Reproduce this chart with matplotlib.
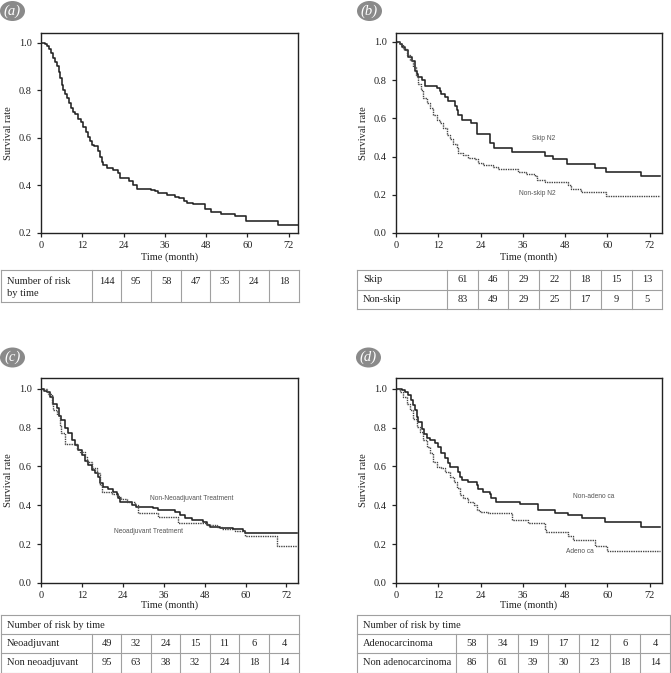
import matplotlib
matplotlib.use("Agg")
import matplotlib.pyplot as plt
from matplotlib.patches import Ellipse

plt.rcParams['font.family'] = ['Liberation Serif', 'DejaVu Serif']

# ---------------- data ----------------
month_ticks = [0, 12, 24, 36, 48, 60, 72]

# (a) overall
A_t = [0, 1.2, 1.8, 2.4, 3.0, 3.5, 4.0, 4.6, 5.1, 5.6, 6.0, 6.5, 7.0, 7.5, 8.0, 8.6, 9.2, 10.0, 10.8, 11.6,
       12.3, 13.0, 13.6, 14.2, 14.8, 15.5, 16.6, 17.1, 17.6, 18.0, 19.2, 21.0, 22.4, 22.9, 25.6, 26.6, 27.9,
       32.0, 33.0, 34.0, 36.5, 39.0, 40.0, 41.5, 42.5, 44.2, 47.8, 49.5, 52.3, 56.5, 59.6, 69.0, 75]
A_s = [1.0, 0.993, 0.986, 0.972, 0.958, 0.937, 0.917, 0.90, 0.875, 0.85, 0.82, 0.80, 0.785, 0.765, 0.745,
       0.725, 0.71, 0.70, 0.68, 0.665, 0.645, 0.625, 0.605, 0.585, 0.57, 0.565, 0.545, 0.52, 0.50, 0.485,
       0.475, 0.465, 0.45, 0.43, 0.42, 0.40, 0.385, 0.38, 0.375, 0.37, 0.36, 0.35, 0.345, 0.335, 0.325,
       0.32, 0.30, 0.29, 0.28, 0.27, 0.25, 0.235, 0.235]
A_risk = [144, 95, 58, 47, 35, 24, 18]

# (b) skip vs non-skip N2
B1_t = [0, 1.1, 1.6, 2.5, 3.5, 4.4, 5.4, 5.9, 6.3, 7.3, 8.2, 11.5, 12.4, 12.9, 13.9, 14.8, 16.7, 17.2, 17.7,
        18.6, 21.4, 22.9, 26.6, 27.9, 32.8, 42.2, 44.6, 48.6, 56.4, 59.7, 69.5, 75]
B1_s = [1.0, 0.99, 0.975, 0.96, 0.92, 0.90, 0.85, 0.83, 0.815, 0.80, 0.77, 0.757, 0.745, 0.73, 0.714, 0.69,
        0.665, 0.645, 0.62, 0.59, 0.575, 0.52, 0.47, 0.445, 0.425, 0.405, 0.385, 0.362, 0.341, 0.32, 0.298, 0.298]
B2_t = [0, 1.0, 2.0, 3.0, 4.0, 4.9, 5.7, 6.3, 7.1, 7.7, 8.7, 9.6, 10.6, 11.5, 12.5, 13.4, 14.4, 15.3, 16.3,
        17.2, 17.7, 19.1, 20.5, 22.4, 23.3, 24.8, 27.6, 29.0, 34.7, 37.0, 39.4, 39.9, 42.2, 48.8, 49.8, 52.6,
        59.7, 75]
B2_s = [1.0, 0.99, 0.965, 0.93, 0.905, 0.87, 0.82, 0.78, 0.75, 0.705, 0.68, 0.655, 0.62, 0.59, 0.575, 0.55,
        0.515, 0.49, 0.468, 0.445, 0.42, 0.41, 0.393, 0.385, 0.367, 0.355, 0.345, 0.333, 0.319, 0.307, 0.298,
        0.28, 0.267, 0.25, 0.232, 0.215, 0.195, 0.195]
B_rows = ["Skip", "Non-skip"]
B_risk = [[61, 46, 29, 22, 18, 15, 13], [83, 49, 29, 25, 17, 9, 5]]

# (c) neoadjuvant
C1_t = [0, 0.8, 1.7, 2.6, 3.6, 4.6, 5.4, 6.0, 7.0, 8.0, 9.0, 10.0, 10.9, 11.9, 12.9, 13.9, 14.9, 15.8, 16.8,
        17.3, 18.3, 19.7, 21.2, 22.2, 22.7, 23.2, 25.6, 26.6, 28.0, 32.9, 34.4, 39.3, 40.7, 42.2, 44.2, 47.6,
        48.6, 49.5, 52.5, 56.4, 59.3, 59.8, 75]
C1_s = [1.0, 0.99, 0.983, 0.957, 0.92, 0.90, 0.86, 0.84, 0.80, 0.77, 0.735, 0.71, 0.685, 0.66, 0.63, 0.607,
        0.58, 0.565, 0.547, 0.513, 0.496, 0.482, 0.47, 0.46, 0.436, 0.419, 0.415, 0.40, 0.393, 0.385, 0.376,
        0.367, 0.35, 0.333, 0.325, 0.316, 0.30, 0.29, 0.282, 0.277, 0.268, 0.256, 0.256]
C2_t = [0, 1.7, 2.1, 3.1, 3.6, 4.6, 5.6, 6.0, 7.0, 10.6, 11.4, 12.9, 13.6, 14.9, 16.3, 17.3, 17.8, 20.7, 22.2,
        23.2, 23.6, 25.1, 27.5, 28.5, 34.4, 40.3, 48.6, 51.5, 53.0, 57.0, 59.8, 69.3, 75]
C2_s = [1.0, 0.99, 0.974, 0.92, 0.89, 0.863, 0.812, 0.77, 0.715, 0.69, 0.675, 0.65, 0.624, 0.59, 0.564, 0.504,
        0.47, 0.46, 0.448, 0.444, 0.43, 0.419, 0.40, 0.359, 0.342, 0.311, 0.297, 0.287, 0.279, 0.27, 0.24,
        0.19, 0.19]
C_rows = ["Neoadjuvant", "Non neoadjuvant"]
C_risk = [[49, 32, 24, 15, 11, 6, 4], [95, 63, 38, 32, 24, 18, 14]]

# (d) histology
D1_t = [0, 1.6, 2.6, 3.3, 4.3, 4.9, 5.4, 5.9, 6.3, 7.3, 8.0, 8.7, 9.6, 11.1, 12.0, 12.9, 13.9, 14.8, 15.3,
        17.7, 18.1, 18.6, 20.5, 22.9, 23.3, 24.8, 26.6, 27.1, 28.5, 35.1, 40.3, 45.0, 48.8, 52.8, 59.4, 69.4, 75]
D1_s = [1.0, 0.991, 0.983, 0.966, 0.94, 0.915, 0.889, 0.855, 0.829, 0.795, 0.769, 0.744, 0.735, 0.718, 0.70,
        0.667, 0.641, 0.615, 0.598, 0.573, 0.547, 0.53, 0.521, 0.504, 0.482, 0.47, 0.46, 0.436, 0.419, 0.407,
        0.376, 0.362, 0.35, 0.333, 0.316, 0.29, 0.29]
D2_t = [0, 1.1, 2.1, 3.0, 4.0, 4.9, 5.9, 6.8, 7.7, 8.7, 9.6, 10.6, 11.5, 12.9, 13.9, 15.3, 16.5, 17.2, 18.1,
        19.1, 20.5, 22.2, 22.9, 23.8, 26.2, 32.8, 37.5, 42.2, 42.7, 48.9, 50.3, 56.6, 59.9, 75]
D2_s = [1.0, 0.983, 0.957, 0.923, 0.889, 0.846, 0.803, 0.778, 0.735, 0.70, 0.667, 0.624, 0.598, 0.59, 0.573,
        0.547, 0.521, 0.487, 0.453, 0.436, 0.419, 0.40, 0.376, 0.367, 0.359, 0.325, 0.308, 0.274, 0.262, 0.244,
        0.219, 0.19, 0.166, 0.166]
D_rows = ["Adenocarcinoma", "Non adenocarcinoma"]
D_risk = [[58, 34, 19, 17, 12, 6, 4], [86, 61, 39, 30, 23, 18, 14]]

# ---------------- figure ----------------
W, H = 671, 673
fig = plt.figure(figsize=(W / 100, H / 100), dpi=100)

FS = 7.5
ANN = dict(fontsize=4.8, family=['Liberation Sans', 'DejaVu Sans'], color='#555555')
DOT = (0, (1.0, 0.7))


def px_axes(l, t, r, b):
    return fig.add_axes([l / W, 1 - b / H, (r - l) / W, (b - t) / H])


def style(ax, ymin, ymax, xmax, yticks, labelpad):
    ax.set_xlim(0, xmax)
    ax.set_ylim(ymin, ymax)
    ax.set_xticks(month_ticks)
    ax.set_yticks(yticks)
    ax.set_yticklabels([f"{v:.1f}" for v in yticks])
    ax.tick_params(direction='out', length=3.2, width=0.9, labelsize=FS, pad=2.5, colors='#222222')
    ax.tick_params(axis='y', pad=3.5)
    for s in ax.spines.values():
        s.set_linewidth(1.0)
        s.set_color('#222222')
    ax.set_xlabel("Time (month)", fontsize=FS, labelpad=labelpad, color='#222222')
    ax.set_ylabel("Survival rate", fontsize=FS, labelpad=4, color='#222222')


yt0 = [0.0, 0.2, 0.4, 0.6, 0.8, 1.0]

# (a)
axA = px_axes(41, 33, 298, 233)
axA.step(A_t, A_s, where='post', color='#222222', lw=1.15)
style(axA, 0.2, 1.04, 74.7, [0.2, 0.4, 0.6, 0.8, 1.0], 1.5)

# (b)
axB = px_axes(396, 33, 662, 233)
axB.step(B1_t, B1_s, where='post', color='#222222', lw=1.15)
axB.step(B2_t, B2_s, where='post', color='#444444', lw=1.0, ls=DOT)
axB.text(42, 0.497, "Skip N2", ha='center', va='center', **ANN)
axB.text(40.2, 0.206, "Non-skip N2", ha='center', va='center', **ANN)
style(axB, 0.0, 1.047, 75.5, yt0, 1.5)

# (c)
axC = px_axes(41, 378, 298, 583)
axC.step(C1_t, C1_s, where='post', color='#222222', lw=1.15)
axC.step(C2_t, C2_s, where='post', color='#444444', lw=1.0, ls=DOT)
axC.text(44.2, 0.436, "Non-Neoadjuvant Treatment", ha='center', va='center', **ANN)
axC.text(31.5, 0.265, "Neoadjuvant Treatment", ha='center', va='center', **ANN)
style(axC, 0.0, 1.055, 75.4, yt0, 0)

# (d)
axD = px_axes(396, 378, 662, 583)
axD.step(D1_t, D1_s, where='post', color='#222222', lw=1.15)
axD.step(D2_t, D2_s, where='post', color='#444444', lw=1.0, ls=DOT)
axD.text(56.2, 0.444, "Non-adeno ca", ha='center', va='center', **ANN)
axD.text(52.3, 0.162, "Adeno ca", ha='center', va='center', **ANN)
style(axD, 0.0, 1.055, 75.5, yt0, 0)

# ---------------- overlay: badges + risk tables ----------------
ov = fig.add_axes([0, 0, 1, 1])
ov.set_xlim(0, W)
ov.set_ylim(H, 0)
ov.axis('off')
ov.patch.set_alpha(0)

for (cx, cy, lab) in [(12.5, 11, "(a)"), (369.5, 11, "(b)"), (12.5, 357.5, "(c)"), (368.5, 357.5, "(d)")]:
    ov.add_patch(Ellipse((cx, cy), 25, 20, facecolor='#8a8a8a', edgecolor='none'))
    ov.text(cx, cy, lab, ha='center', va='center', color='white', fontsize=10.5, style='italic')

GRID = dict(color='#a0a0a0', lw=0.8)
TXT = dict(fontsize=FS, color='#222222')


def draw_grid(cols, rows, merged_first=False):
    for i, y in enumerate(rows):
        ov.plot([cols[0], cols[-1]], [y, y], **GRID)
    for j, x in enumerate(cols):
        y0 = rows[1] if (merged_first and 0 < j < len(cols) - 1) else rows[0]
        ov.plot([x, x], [y0, rows[-1]], **GRID)


# table (a)
colsA = [1, 92, 121, 151, 181, 210, 239, 269, 299]
rowsA = [270, 302]
draw_grid(colsA, rowsA)
ov.text(7, 281, "Number of risk", ha='left', va='center', **TXT)
ov.text(7, 293, "by time", ha='left', va='center', **TXT)
for j, v in enumerate(A_risk):
    ov.text((colsA[j + 1] + colsA[j + 2]) / 2, 281, str(v), ha='center', va='center', **TXT)

# table (b)
colsB = [357, 447, 478, 508, 539, 570, 601, 632, 662]
rowsB = [270, 289.5, 309]
draw_grid(colsB, rowsB)
for i, name in enumerate(B_rows):
    yc = (rowsB[i] + rowsB[i + 1]) / 2
    ov.text(363, yc, name, ha='left', va='center', **TXT)
    for j, v in enumerate(B_risk[i]):
        ov.text((colsB[j + 1] + colsB[j + 2]) / 2, yc, str(v), ha='center', va='center', **TXT)

# table (c)
colsC = [1, 92, 121, 151, 180, 210, 239, 269, 299]
rowsC = [615, 634.3, 653.3, 672.5]
draw_grid(colsC, rowsC, merged_first=True)
ov.text(7, (rowsC[0] + rowsC[1]) / 2, "Number of risk by time", ha='left', va='center', **TXT)
for i, name in enumerate(C_rows):
    yc = (rowsC[i + 1] + rowsC[i + 2]) / 2
    ov.text(7, yc, name, ha='left', va='center', **TXT)
    for j, v in enumerate(C_risk[i]):
        ov.text((colsC[j + 1] + colsC[j + 2]) / 2, yc, str(v), ha='center', va='center', **TXT)

# table (d)
colsD = [357, 456, 487, 518, 548, 579, 610, 640, 670]
rowsD = [615, 634.3, 653.3, 672.5]
draw_grid(colsD, rowsD, merged_first=True)
ov.text(363, (rowsD[0] + rowsD[1]) / 2, "Number of risk by time", ha='left', va='center', **TXT)
for i, name in enumerate(D_rows):
    yc = (rowsD[i + 1] + rowsD[i + 2]) / 2
    ov.text(363, yc, name, ha='left', va='center', **TXT)
    for j, v in enumerate(D_risk[i]):
        ov.text((colsD[j + 1] + colsD[j + 2]) / 2, yc, str(v), ha='center', va='center', **TXT)

fig.savefig("out.png", dpi=100)
